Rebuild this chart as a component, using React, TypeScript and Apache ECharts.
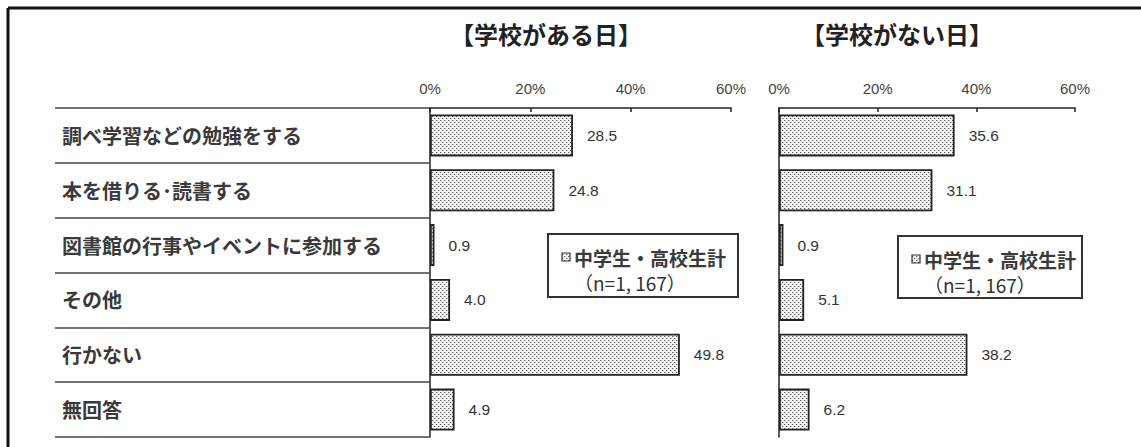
import React, { useEffect, useRef } from 'react';
import * as echarts from 'echarts';

const categories = [
  '調べ学習などの勉強をする',
  '本を借りる･読書する',
  '図書館の行事やイベントに参加する',
  'その他',
  '行かない',
  '無回答',
];
const schoolDayValues = [28.5, 24.8, 0.9, 4.0, 49.8, 4.9];
const noSchoolDayValues = [35.6, 31.1, 0.9, 5.1, 38.2, 6.2];
const panelTitles = ['【学校がある日】', '【学校がない日】'];
const seriesName = '中学生・高校生計';
const sampleNote = '（n=1, 167）';
const axisMin = 0;
const axisMax = 60;
const axisStep = 20;

function makePattern(): HTMLCanvasElement {
  const c = document.createElement('canvas');
  c.width = 4;
  c.height = 4;
  const ctx = c.getContext('2d')!;
  ctx.fillStyle = '#f3f3f3';
  ctx.fillRect(0, 0, 4, 4);
  ctx.fillStyle = '#5a5a5a';
  ctx.fillRect(0, 0, 1, 1);
  ctx.fillRect(2, 2, 1, 1);
  ctx.fillStyle = '#c8c8c8';
  ctx.fillRect(1, 0, 1, 1);
  ctx.fillRect(3, 2, 1, 1);
  return c;
}

export default function App() {
  const ref = useRef<HTMLDivElement>(null);

  useEffect(() => {
    if (!ref.current) return;
    const chart = echarts.init(ref.current, undefined, { renderer: 'svg' });
    const canvas = makePattern();
    const pattern: any = { image: canvas, repeat: 'repeat', imageWidth: 4, imageHeight: 4 };
    const numFont = '"Liberation Sans", Arial, sans-serif';
    const jpFont = '"Noto Sans CJK JP", sans-serif';

    const valueAxis = (gridIndex: number) => ({
      type: 'value',
      gridIndex,
      position: 'top',
      min: axisMin,
      max: axisMax,
      interval: axisStep,
      splitLine: { show: false },
      axisLine: { show: true, lineStyle: { color: '#222', width: 1.5 } },
      axisTick: { show: true, inside: true, length: 4, lineStyle: { color: '#222', width: 1.5 } },
      axisLabel: {
        formatter: '{value}%',
        color: '#444',
        fontSize: 15,
        fontFamily: numFont,
        margin: 12,
      },
    });

    const barSeries = (name: string, data: number[], idx: number) => ({
      type: 'bar',
      name,
      xAxisIndex: idx,
      yAxisIndex: idx,
      data,
      barWidth: 42,
      itemStyle: { color: pattern, borderColor: '#222', borderWidth: 1.8 },
      label: {
        show: true,
        position: 'right',
        distance: 14,
        color: '#333',
        fontSize: 15.5,
        fontFamily: numFont,
        formatter: (p: any) => Number(p.value).toFixed(1),
      },
    });

    const legendBox = (x: number, y: number, w: number, h: number) => [
      {
        type: 'rect',
        shape: { x, y, width: w, height: h },
        style: { fill: '#fff', stroke: '#333', lineWidth: 2 },
        z: 10,
      },
      {
        type: 'rect',
        shape: { x: x + 14, y: y + 19, width: 8, height: 8 },
        style: { fill: pattern, stroke: '#333', lineWidth: 1.2 },
        z: 11,
      },
      {
        type: 'text',
        x: x + 26,
        y: y + 23,
        style: {
          text: seriesName,
          fontSize: 19,
          fontWeight: 'bold',
          fontFamily: jpFont,
          fill: '#3a3a3a',
          align: 'left',
          verticalAlign: 'middle',
          textAlign: 'left',
          textVerticalAlign: 'middle',
        },
        z: 11,
      },
      {
        type: 'text',
        x: x + 26,
        y: y + 48,
        style: {
          text: sampleNote,
          fontSize: 19,
          fontFamily: jpFont,
          fill: '#333',
          align: 'left',
          verticalAlign: 'middle',
          textAlign: 'left',
          textVerticalAlign: 'middle',
        },
        z: 11,
      },
    ];

    chart.setOption({
      animation: false,
      backgroundColor: '#fff',
      title: [
        {
          text: panelTitles[0],
          left: 541,
          top: 16,
          textAlign: 'center',
          textStyle: { fontSize: 24, fontWeight: 'bold', color: '#222', fontFamily: jpFont },
        },
        {
          text: panelTitles[1],
          left: 892,
          top: 16,
          textAlign: 'center',
          textStyle: { fontSize: 24, fontWeight: 'bold', color: '#222', fontFamily: jpFont },
        },
      ],
      grid: [
        { left: 430, top: 108, width: 301, height: 329 },
        { left: 779, top: 108, width: 296, height: 329 },
      ],
      xAxis: [valueAxis(0), valueAxis(1)],
      yAxis: [
        {
          type: 'category',
          gridIndex: 0,
          inverse: true,
          data: categories,
          axisLine: { show: true, lineStyle: { color: '#222', width: 1.5 } },
          axisTick: { show: true, length: 375, lineStyle: { color: '#444', width: 1.5 } },
          axisLabel: {
            align: 'left',
            margin: 368,
            fontSize: 20,
            fontWeight: 'bold',
            color: '#3a3a3a',
            fontFamily: jpFont,
          },
        },
        {
          type: 'category',
          gridIndex: 1,
          inverse: true,
          data: categories,
          axisLine: { show: true, lineStyle: { color: '#222', width: 1.5 } },
          axisTick: { show: false },
          axisLabel: { show: false },
        },
      ],
      series: [
        barSeries(seriesName, schoolDayValues, 0),
        barSeries(seriesName, noSchoolDayValues, 1),
      ],
      graphic: [
        { type: 'line', shape: { x1: 8, y1: 8, x2: 1141, y2: 8 }, style: { stroke: '#111', lineWidth: 3 } },
        { type: 'line', shape: { x1: 8, y1: 8, x2: 8, y2: 447 }, style: { stroke: '#111', lineWidth: 3 } },
        ...legendBox(548, 234, 190, 63),
        ...legendBox(898, 236, 184, 62),
      ],
    });

    return () => chart.dispose();
  }, []);

  return (
    <div
      ref={ref}
      style={{ position: 'fixed', left: 0, top: 0, width: 1141, height: 447, background: '#fff' }}
    />
  );
}
